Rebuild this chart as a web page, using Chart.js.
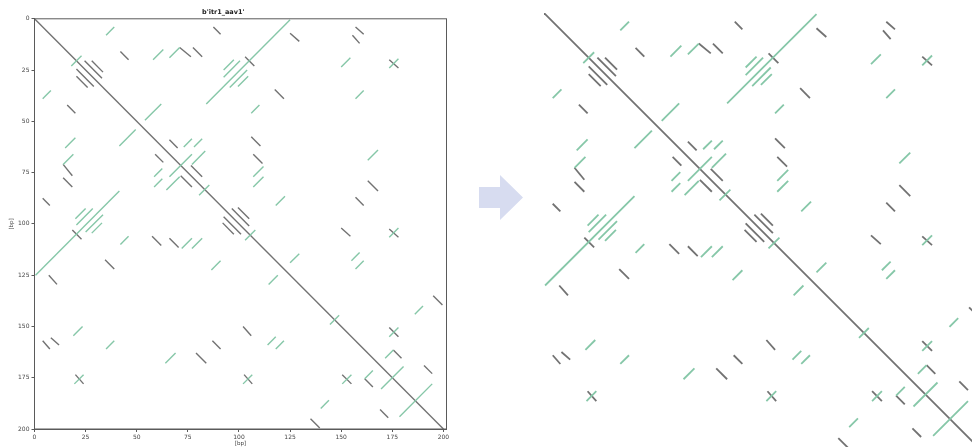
<!DOCTYPE html>
<html>
<head>
<meta charset="utf-8">
<script src="https://cdn.jsdelivr.net/npm/chart.js@4/dist/chart.umd.min.js"></script>
<style>
  html, body { margin: 0; padding: 0; background: #ffffff; }
  body { width: 972px; height: 447px; overflow: hidden; position: relative; }
  #plotBox { position: absolute; left: 0; top: 0; width: 460px; height: 447px; }
  #zoomBox { position: absolute; left: 540px; top: 9px; width: 444px; height: 444px; }
  #arrow { position: absolute; left: 0; top: 0; }
</style>
</head>
<body>
<div id="plotBox"><canvas id="dotplot" width="460" height="447"></canvas></div>
<svg id="arrow" width="972" height="447">
  <polygon points="479,187 500,187 500,175 523,197.5 500,220 500,208 479,208" fill="#d7dcf0"></polygon>
</svg>
<div id="zoomBox"><canvas id="dotplotZoom" width="444" height="444"></canvas></div>
<script>
// Self-comparison dot plot of b'itr1_aav1' (positions in bp).
// Each match is [x1, y1, x2, y2].
const plotTitle = "b'itr1_aav1'";
const axisLabel = '[bp]';
const tickValues = [0, 25, 50, 75, 100, 125, 150, 175, 200];

// forward (direct) matches
const forwardMatches = [
  [0, 0, 200, 200],
  [87.5, 4, 91, 7.5], [4, 87.5, 7.5, 91],
  [42, 16, 46, 20], [16, 42, 20, 46],
  [71, 14, 76.5, 18.5], [14, 71, 18.5, 76.5],
  [77.5, 14, 82, 18.5], [14, 77.5, 18.5, 82],
  [24.5, 20.5, 33, 29], [28, 20.5, 33.5, 26],
  [20.5, 24.5, 29, 33], [20.5, 28, 26, 33.5],
  [96.5, 92.5, 105, 101], [99.5, 92, 105, 97.5],
  [92.5, 96.5, 101, 105], [92, 99.5, 97.5, 105],
  [103, 18.5, 107.5, 23], [18.5, 103, 23, 107.5],
  [125, 7, 129.5, 11], [7, 125, 11, 129.5],
  [157, 4, 161, 7.5], [4, 157, 7.5, 161],
  [155.5, 8, 159, 12], [8, 155.5, 12, 159],
  [173.5, 20, 178, 24], [20, 173.5, 24, 178],
  [117.5, 34.5, 122, 39], [34.5, 117.5, 39, 122],
  [106, 57.5, 110.5, 62], [57.5, 106, 62, 110.5],
  [107, 66, 111.5, 70.5], [66, 107, 70.5, 111.5],
  [66, 59, 70, 63], [59, 66, 63, 70],
  [76.5, 71.5, 82, 77], [71.5, 76.5, 77, 82],
  [163, 79, 168, 84], [79, 163, 84, 168],
  [157, 87, 161, 91], [87, 157, 91, 161],
  [150, 102, 154.5, 106], [102, 150, 106, 154.5],
  [173.5, 102.5, 178, 106.5], [102.5, 173.5, 106.5, 178],
  [173.5, 150.5, 178, 155], [150.5, 173.5, 155, 178],
  [161.5, 175.5, 165.5, 179.5], [175.5, 161.5, 179.5, 165.5],
  [190.5, 169, 194.5, 173], [169, 190.5, 173, 194.5],
  [195, 135, 199.5, 139.5], [135, 195, 139.5, 199.5]
];

// reverse-complement matches
const reverseMatches = [
  [0.5, 125, 41.5, 84], [84, 41.5, 125, 0.5],
  [35, 8, 39, 4], [8, 35, 4, 39],
  [58, 20, 63, 15], [20, 58, 15, 63],
  [66, 19, 71, 14], [19, 66, 14, 71],
  [18, 23, 23, 18],
  [92.5, 25, 97.5, 20], [92.5, 28.5, 100.5, 20.5],
  [95.5, 33.5, 104, 25], [99.5, 33, 104.5, 28],
  [25, 92.5, 20, 97.5], [28.5, 92.5, 20.5, 100.5],
  [33.5, 95.5, 25, 104], [33, 99.5, 28, 104.5],
  [54, 49.5, 62, 41.5], [41.5, 62, 49.5, 54],
  [73, 62.5, 77, 58.5], [62.5, 73, 58.5, 77],
  [78, 62.5, 82, 58.5], [62.5, 78, 58.5, 82],
  [66, 77, 77, 66],
  [77, 71, 83.5, 64.5], [71, 77, 64.5, 83.5],
  [80.5, 86, 85.5, 81],
  [103, 108, 108, 103],
  [150, 23.5, 154.5, 19], [23.5, 150, 19, 154.5],
  [173.5, 24, 178, 19.5], [24, 173.5, 19.5, 178],
  [157, 39, 161, 35], [39, 157, 35, 161],
  [106, 46, 110, 42], [46, 106, 42, 110],
  [107, 77, 112, 72], [77, 107, 72, 112],
  [107, 82, 112, 77], [82, 107, 77, 112],
  [163, 69, 168, 64], [69, 163, 64, 168],
  [118, 91, 122.5, 86.5], [91, 118, 86.5, 122.5],
  [125, 119, 129.5, 114.5], [119, 125, 114.5, 129.5],
  [155, 118, 159, 114], [118, 155, 114, 159],
  [157, 122, 161, 118], [122, 157, 118, 161],
  [173.5, 106.5, 178, 102], [106.5, 173.5, 102, 178],
  [173.5, 155, 178, 150.5], [155, 173.5, 150.5, 178],
  [144.5, 149, 149, 144.5],
  [186, 144, 190, 140], [144, 186, 140, 190],
  [161.5, 175.5, 165.5, 171.5], [175.5, 161.5, 171.5, 165.5],
  [169.5, 180.5, 180.5, 169.5],
  [178.5, 194, 194.5, 178]
];

const forwardColor = '#727272';
const reverseColor = '#86c7a8';

function segmentDatasets(segments, color, width) {
  return segments.map(s => ({
    data: [{ x: s[0], y: s[1] }, { x: s[2], y: s[3] }],
    borderColor: color,
    borderWidth: width,
    pointRadius: 0,
    pointHoverRadius: 0,
    showLine: true,
    fill: false,
    tension: 0
  }));
}

function allDatasets(width) {
  return segmentDatasets(reverseMatches, reverseColor, width)
    .concat(segmentDatasets(forwardMatches, forwardColor, width));
}

// closes the box around the plotting area (top and right edges)
const frame = {
  id: 'frame',
  afterDraw(chart, args, opts) {
    if (!opts.show) return;
    const a = chart.chartArea, ctx = chart.ctx;
    ctx.save();
    ctx.strokeStyle = '#5a5a5a';
    ctx.lineWidth = 1;
    ctx.strokeRect(a.left, a.top, a.right - a.left, a.bottom - a.top);
    ctx.restore();
  }
};

const tickFont = { family: 'DejaVu Sans', size: 6 };
const useTicks = s => { s.ticks = tickValues.map(v => ({ value: v })); };

new Chart(document.getElementById('dotplot'), {
  type: 'scatter',
  data: { datasets: allDatasets(1.4) },
  plugins: [frame],
  options: {
    responsive: false,
    animation: false,
    events: [],
    layout: { padding: { left: 0, right: 13.5, top: 0, bottom: 0 } },
    plugins: {
      legend: { display: false },
      tooltip: { enabled: false },
      frame: { show: true },
      title: {
        display: true,
        text: plotTitle,
        color: '#222',
        font: { family: 'DejaVu Sans', size: 6.5, weight: 'bold', lineHeight: 1.2 },
        padding: { top: 8.8, bottom: 2.2 }
      }
    },
    scales: {
      x: {
        type: 'linear', min: 0, max: 201.5,
        afterBuildTicks: useTicks,
        afterFit: s => { s.height = 18; },
        grid: { drawOnChartArea: false, drawTicks: true, tickLength: 3, color: '#5a5a5a' },
        border: { color: '#5a5a5a' },
        ticks: { font: tickFont, color: '#444', padding: 2, maxRotation: 0 },
        title: { display: true, text: axisLabel, color: '#444', font: { family: 'DejaVu Sans', size: 5.5 }, padding: 0 }
      },
      y: {
        type: 'linear', min: 0, max: 200, reverse: true,
        afterBuildTicks: useTicks,
        afterFit: s => { s.width = 34.5; },
        grid: { drawOnChartArea: false, drawTicks: true, tickLength: 3, color: '#5a5a5a' },
        border: { color: '#5a5a5a' },
        ticks: { font: tickFont, color: '#444', padding: 2 },
        title: { display: true, text: axisLabel, color: '#444', font: { family: 'DejaVu Sans', size: 5.5 }, padding: { top: 8, bottom: 0 } }
      }
    }
  }
});

// enlarged copy of the same plot, without axes
new Chart(document.getElementById('dotplotZoom'), {
  type: 'scatter',
  data: { datasets: allDatasets(1.8) },
  options: {
    responsive: false,
    animation: false,
    events: [],
    layout: { padding: 4 },
    plugins: { legend: { display: false }, tooltip: { enabled: false } },
    scales: {
      x: { type: 'linear', min: 0, max: 200, display: false },
      y: { type: 'linear', min: 0, max: 200, reverse: true, display: false }
    }
  }
});
</script>
</body>
</html>
